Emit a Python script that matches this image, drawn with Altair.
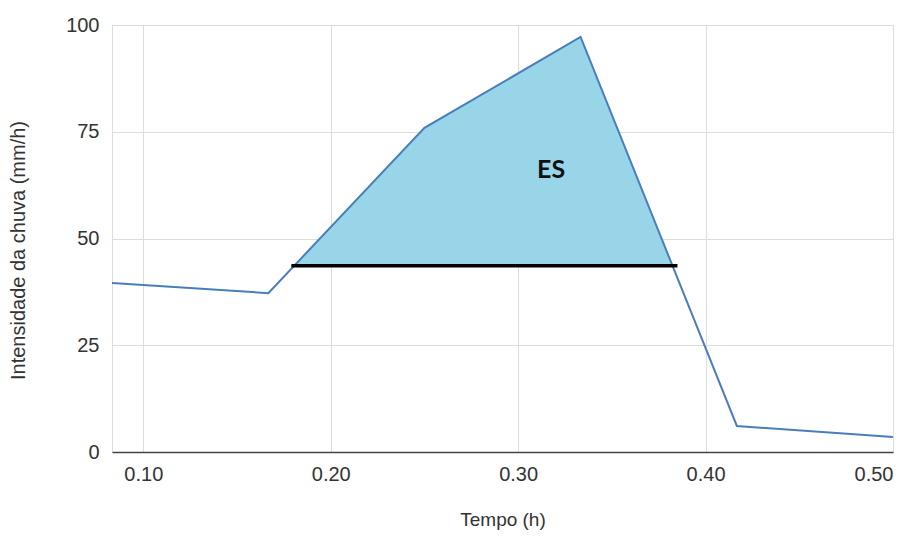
import altair as alt
import pandas as pd

# Series
tempo = [0.0833, 0.1667, 0.25, 0.3333, 0.4167, 0.5]
intensidade = [39.6, 37.2, 75.9, 97.2, 6.1, 3.5]

# Shaded region (ES) above the threshold
area_x = [0.1805, 0.25, 0.3333, 0.3823]
area_y = [43.6, 75.9, 97.2, 43.6]
limiar = 43.6
limiar_x = [0.179, 0.385]

label_text = ["ES"]
label_x = [0.3176]
label_y = [66]

x_ticks = [0.1, 0.2, 0.3, 0.4, 0.5]
y_ticks = [0, 25, 50, 75, 100]

df_line = pd.DataFrame({"t": tempo, "i": intensidade})
df_area = pd.DataFrame({"t": area_x, "i": area_y, "base": [limiar] * len(area_x)})
df_rule = pd.DataFrame({"t": [limiar_x[0]], "t2": [limiar_x[1]], "i": [limiar]})
df_text = pd.DataFrame({"t": label_x, "i": label_y, "txt": label_text})

xs = alt.Scale(domain=[0.0833, 0.5], nice=False, zero=False)
ys = alt.Scale(domain=[0, 100], nice=False)

FS = 20

x_axis = alt.Axis(
    title="Tempo (h)", values=x_ticks, format=".2f", grid=True, ticks=False,
    domain=True, domainColor="#444444", domainWidth=1.5,
    labelPadding=12, titleY=58, titleBaseline="top", labelFontSize=FS, titleFontSize=19,
    labelColor="#333333", titleColor="#333333", labelFont="Liberation Sans",
    titleFont="Liberation Sans", titleFontWeight="normal",
    gridColor="#dddddd",
)
y_axis = alt.Axis(
    title="Intensidade da chuva (mm/h)", values=y_ticks, grid=True, ticks=False,
    domain=False, labelPadding=13, labelFontSize=FS, titleFontSize=FS,
    labelColor="#333333", titleColor="#333333", labelFont="Liberation Sans",
    titleFont="Liberation Sans", titleFontWeight="normal",
    gridColor="#dddddd", titleX=-84, titleY=225,
)

area = alt.Chart(df_area).mark_area(color="#99d5e8", opacity=1).encode(
    x=alt.X("t:Q", scale=xs, axis=x_axis),
    y=alt.Y("i:Q", scale=ys, axis=y_axis),
    y2="base:Q",
)
line = alt.Chart(df_line).mark_line(color="#4a7ebb", strokeWidth=2).encode(
    x=alt.X("t:Q", scale=xs),
    y=alt.Y("i:Q", scale=ys),
)
rule = alt.Chart(df_rule).mark_rule(color="black", strokeWidth=3.5).encode(
    x=alt.X("t:Q", scale=xs),
    x2="t2:Q",
    y=alt.Y("i:Q", scale=ys),
)
text = alt.Chart(df_text).mark_text(
    font="Lato", fontWeight="bold", fontSize=25, color="#111111"
).encode(
    x=alt.X("t:Q", scale=xs),
    y=alt.Y("i:Q", scale=ys),
    text="txt:N",
)

chart = alt.layer(area, line, rule, text).properties(
    width=781, height=427,
    autosize=alt.AutoSizeParams(type="none"),
    padding={"left": 104, "top": 17, "right": 17, "bottom": 81},
).configure_view(stroke=None).configure(background="white")

chart.save("out.html", embed_options={"renderer": "svg", "actions": False})
